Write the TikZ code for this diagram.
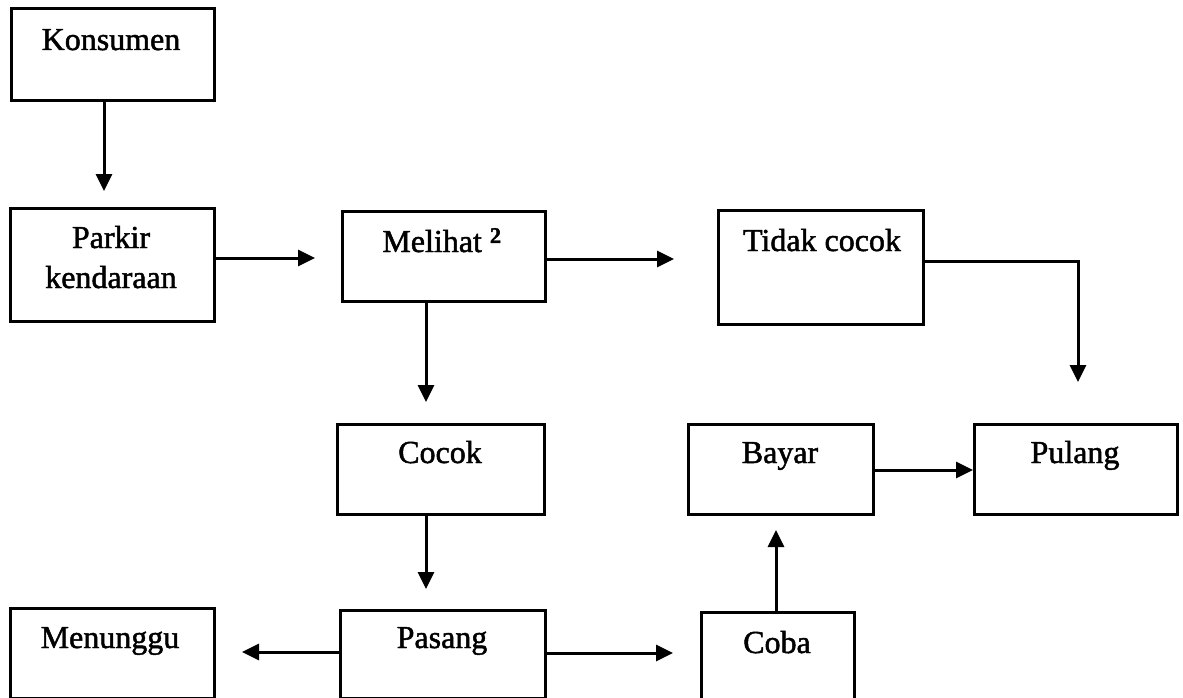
\documentclass[tikz,border=0pt]{standalone}
\usepackage{fontspec}
\setmainfont{Liberation Serif}
\newfontfamily\lblfont{Liberation Serif}[FakeBold=1.5]
\usetikzlibrary{arrows.meta,calc}
\begin{document}
\begin{tikzpicture}[x=1pt,y=-1pt,
  box/.style={draw=black,line width=3pt,rectangle,inner sep=0pt,anchor=north west},
  lbl/.style={anchor=base,inner sep=0pt,font=\fontsize{32}{38}\lblfont},
  arr/.style={line width=3pt,-{Triangle[length=17pt,width=16pt]}}]
\useasboundingbox (0,0) rectangle (1183,698);
\fill[white] (0,0) rectangle (1183,698);
\clip (0,0) rectangle (1183,698);

% boxes
\node[box,minimum width=203pt,minimum height=92pt]  (kons)   at (10,7)    {};
\node[box,minimum width=204pt,minimum height=113pt] (parkir) at (9,207)   {};
\node[box,minimum width=203pt,minimum height=90pt]  (mel)    at (341,210) {};
\node[box,minimum width=205pt,minimum height=114pt] (tidak)  at (717,209) {};
\node[box,minimum width=207pt,minimum height=90pt]  (cocok)  at (336,423) {};
\node[box,minimum width=185pt,minimum height=90pt]  (bayar)  at (687,423) {};
\node[box,minimum width=203pt,minimum height=90pt]  (pulang) at (973,423) {};
\node[box,minimum width=204pt,minimum height=90pt]  (tunggu) at (9,607)   {};
\node[box,minimum width=205pt,minimum height=88pt]  (pasang) at (339,609) {};
\node[box,minimum width=153pt,minimum height=100pt] (coba)   at (700,611) {};

% labels
\node[lbl] (tkons)   at (111,50)  {Konsumen};
\node[lbl] (tparkA)  at (111,248) {Parkir};
\node[lbl] (tparkB)  at (111,288) {kendaraan};
\node[lbl] (tmel)    at (442,252) {Melihat \textsuperscript{\bfseries 2}};
\node[lbl] (ttidak)  at (822,251) {Tidak cocok};
\node[lbl] (tcocok)  at (440,463) {Cocok};
\node[lbl] (tbayar)  at (780,463) {Bayar};
\node[lbl] (tpulang) at (1075,463){Pulang};
\node[lbl] (ttunggu) at (110,648) {Menunggu};
\node[lbl] (tpasang) at (442,648) {Pasang};
\node[lbl] (tcoba)   at (777,653) {Coba};

% guide lines for connector rows and columns
\coordinate (c1) at (104,0);
\coordinate (c2) at (426,0);
\coordinate (c3) at (776,0);
\coordinate (c4) at (1078,0);
\coordinate (r1) at (0,258);
\coordinate (r2) at (0,259);
\coordinate (r3) at (0,261);
\coordinate (r4) at (0,470);
\coordinate (r5) at (0,652);
\coordinate (r6) at (0,653);
\coordinate (bend) at (c4 |- r3);

% connectors
\draw[arr,shorten >=16pt] (kons.south -| c1) -- (parkir.north -| c1);
\draw[arr,shorten >=26pt] (parkir.east |- r1) -- (mel.west |- r1);
\draw[arr,shorten >=43pt] (mel.east |- r2) -- (tidak.west |- r2);
\draw[arr,shorten >=41pt] (tidak.east |- r3) -- (bend) -- (pulang.north -| c4);
\draw[arr,shorten >=21pt] (mel.south -| c2) -- (cocok.north -| c2);
\draw[arr,shorten >=20pt] (cocok.south -| c2) -- (pasang.north -| c2);
\draw[arr,shorten >=26pt] (pasang.west |- r5) -- (tunggu.east |- r5);
\draw[arr,shorten >=27pt] (pasang.east |- r6) -- (coba.west |- r6);
\draw[arr,shorten >=14pt] (coba.north -| c3) -- (bayar.south -| c3);
\draw[arr] (bayar.east |- r4) -- (pulang.west |- r4);
\end{tikzpicture}
\end{document}
